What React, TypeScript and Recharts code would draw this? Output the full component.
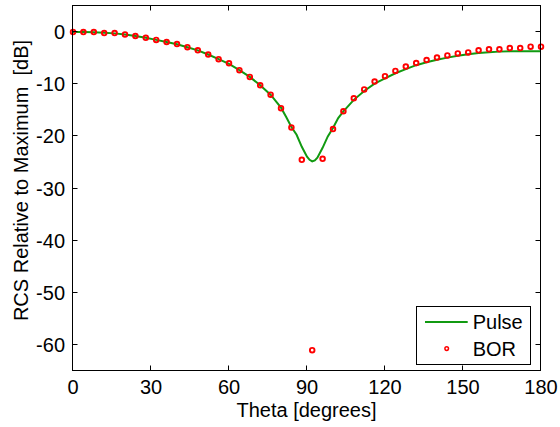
import React from 'react';
import { ComposedChart, Line, Scatter, XAxis, YAxis, Legend } from 'recharts';

const borTheta = [0, 4, 8, 12, 16, 20, 24, 28, 32, 36, 40, 44, 48, 52, 56, 60, 64, 68, 72, 76, 80, 84, 88, 92, 96, 100, 104, 108, 112, 116, 120, 124, 128, 132, 136, 140, 144, 148, 152, 156, 160, 164, 168, 172, 176, 180];
const borValues = [0, 0, 0, -0.2, -0.2, -0.45, -0.75, -1.1, -1.5, -1.9, -2.3, -2.9, -3.5, -4.3, -5.2, -6.0, -7.3, -8.6, -10.2, -12.0, -14.6, -18.3, -24.5, -61, -24.3, -18.6, -15.2, -12.7, -11.0, -9.5, -8.45, -7.45, -6.6, -5.95, -5.37, -4.9, -4.47, -4.1, -3.9, -3.5, -3.3, -3.3, -3.07, -3.07, -2.8, -2.8];

const pulseTheta = [0, 4, 8, 12, 16, 20, 24, 28, 32, 36, 40, 44, 48, 52, 56, 60, 64, 68, 72, 76, 80, 82, 84, 86, 88, 90, 91, 92, 93, 94, 96, 98, 100, 102, 104, 108, 112, 116, 120, 124, 128, 132, 136, 140, 144, 148, 152, 156, 160, 164, 168, 172, 176, 180];
const pulseValues = [0, 0, -0.05, -0.15, -0.25, -0.45, -0.75, -1.1, -1.5, -1.9, -2.35, -2.9, -3.5, -4.3, -5.2, -6.1, -7.3, -8.6, -10.2, -12.0, -14.5, -16.3, -18.2, -19.7, -22.0, -23.9, -24.5, -24.8, -24.6, -24.1, -22.2, -20.0, -18.4, -16.5, -15.2, -13.0, -11.3, -9.9, -8.9, -7.9, -7.1, -6.35, -5.8, -5.3, -4.9, -4.55, -4.25, -4.0, -3.85, -3.75, -3.7, -3.7, -3.7, -3.7];

const xTicks = [0, 30, 60, 90, 120, 150, 180];
const yTicks = [-60, -50, -40, -30, -20, -10, 0];
const xDomain = [0, 180];
const yDomain = [-65, 5];

const xLabel = 'Theta [degrees]';
const yLabel = 'RCS Relative to Maximum  [dB]';
const seriesNames = ['Pulse', 'BOR'];

const borData = borTheta.map((x, i) => ({ x, y: borValues[i] }));
const pulseData = pulseTheta.map((x, i) => ({ x, y: pulseValues[i] }));

const FONT = "'Liberation Sans', Arial, Helvetica, sans-serif";
const GREEN = '#119a11';
const RED = '#ff0000';

// plot-area layout (follows from the chart margins and axis sizes below)
const PLOT_L = 73;
const PLOT_T = 6;
const PLOT_W = 468;
const PLOT_H = 365;
const LEG_X = 416;
const LEG_Y = 306;

const px = (v: number) => Math.round(PLOT_L + ((v - xDomain[0]) / (xDomain[1] - xDomain[0])) * PLOT_W) - 0.5;
const py = (v: number) => Math.round(PLOT_T + ((yDomain[1] - v) / (yDomain[1] - yDomain[0])) * PLOT_H) - 0.5;

const BottomTick = (p: any) => (
  <text x={p.x} y={p.y + 23} textAnchor="middle" fontSize={20} fontFamily={FONT} fill="#000">
    {p.payload.value}
  </text>
);
const LeftTick = (p: any) => (
  <text x={p.x - 8} y={p.y + 7} textAnchor="end" fontSize={20} fontFamily={FONT} fill="#000">
    {p.payload.value}
  </text>
);

const XTitle = () => (
  <text x={306.5} y={416.5} textAnchor="middle" fontSize={20} fontFamily={FONT} fill="#000">
    {xLabel}
  </text>
);
const YTitle = () => (
  <text
    x={28}
    y={180.5}
    transform="rotate(-90, 28, 180.5)"
    textAnchor="middle"
    fontSize={20}
    fontFamily={FONT}
    fill="#000"
    style={{ whiteSpace: 'pre' }}
  >
    {yLabel}
  </text>
);

const BorDot = (p: any) => (
  <circle cx={p.cx} cy={p.cy} r={2.3} stroke={RED} strokeWidth={1.9} fill="none" />
);

const Overlay = () => {
  const left = PLOT_L - 0.5;
  const top = PLOT_T - 0.5;
  const right = left + PLOT_W;
  const bottom = top + PLOT_H;
  return (
    <svg width={116} height={60} style={{ display: 'block', overflow: 'visible' }}>
      <g transform={`translate(${-LEG_X}, ${-LEG_Y})`}>
        <rect x={left} y={top} width={PLOT_W} height={PLOT_H} fill="none" stroke="#000" strokeWidth={1} />
        {xTicks.map((v) => (
          <g key={'x' + v}>
            <line x1={px(v)} y1={bottom} x2={px(v)} y2={bottom - 5} stroke="#000" strokeWidth={1} />
            <line x1={px(v)} y1={top} x2={px(v)} y2={top + 5} stroke="#000" strokeWidth={1} />
          </g>
        ))}
        {yTicks.map((v) => (
          <g key={'y' + v}>
            <line x1={left} y1={py(v)} x2={left + 5} y2={py(v)} stroke="#000" strokeWidth={1} />
            <line x1={right} y1={py(v)} x2={right - 5} y2={py(v)} stroke="#000" strokeWidth={1} />
          </g>
        ))}
      </g>
      <rect x={0.5} y={0.5} width={114} height={58} fill="#fff" stroke="#000" strokeWidth={1} />
      <line x1={9} y1={16} x2={51.7} y2={16} stroke={GREEN} strokeWidth={2} />
      <text x={56.7} y={22.6} fontSize={20} fontFamily={FONT} fill="#000">{seriesNames[0]}</text>
      <circle cx={30.7} cy={42.6} r={1.8} stroke={RED} strokeWidth={1.5} fill="none" />
      <text x={56.7} y={50} fontSize={20} fontFamily={FONT} fill="#000">{seriesNames[1]}</text>
    </svg>
  );
};

export default function App() {
  return (
    <div style={{ position: 'absolute', left: 0, top: 0, width: 560, height: 427, background: '#fff' }}>
      <ComposedChart width={560} height={427} margin={{ top: PLOT_T, right: 19, bottom: 0, left: 0 }}>
        <XAxis
          dataKey="x"
          type="number"
          domain={xDomain}
          ticks={xTicks}
          interval={0}
          height={56}
          tickSize={0}
          tickMargin={0}
          tick={BottomTick}
          tickLine={false}
          axisLine={false}
          label={XTitle}
        />
        <YAxis
          type="number"
          domain={yDomain}
          ticks={yTicks}
          interval={0}
          width={PLOT_L}
          tickSize={0}
          tickMargin={0}
          tick={LeftTick}
          tickLine={false}
          axisLine={false}
          label={YTitle}
        />
        <Line
          data={pulseData}
          dataKey="y"
          name={seriesNames[0]}
          type="linear"
          stroke={GREEN}
          strokeWidth={2}
          dot={false}
          activeDot={false}
          isAnimationActive={false}
        />
        <Scatter
          data={borData}
          dataKey="y"
          name={seriesNames[1]}
          shape={BorDot}
          isAnimationActive={false}
        />
        <Legend
          layout="vertical"
          align="center"
          verticalAlign="middle"
          content={Overlay}
          wrapperStyle={{ position: 'absolute', left: LEG_X, top: LEG_Y, width: 116, height: 60, pointerEvents: 'none' }}
        />
      </ComposedChart>
    </div>
  );
}
